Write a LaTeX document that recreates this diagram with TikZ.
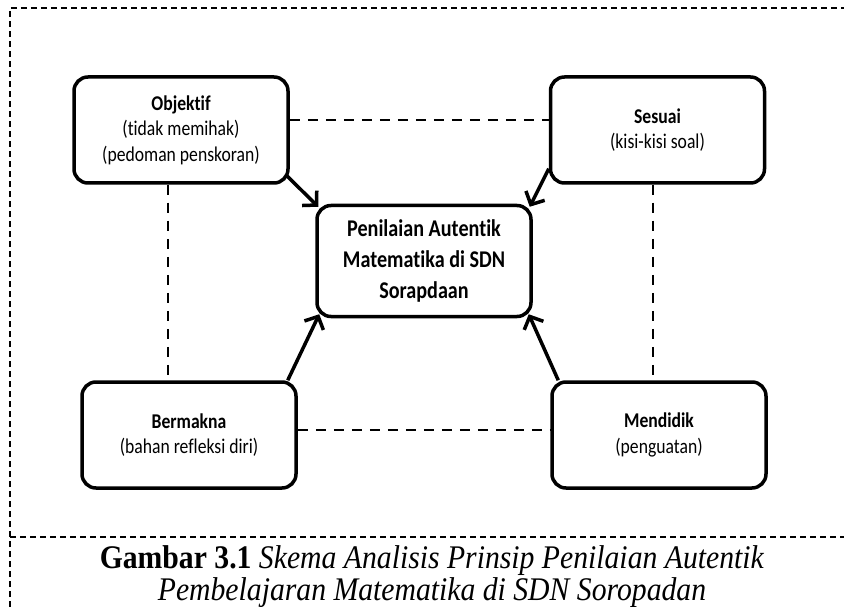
\documentclass[tikz,border=0pt]{standalone}
\usepackage{fontspec}
\setmainfont{Liberation Serif}
\newfontfamily\boxfont[FakeStretch=0.84, Ligatures=NoCommon]{Carlito}
\newfontfamily\capfont[FakeStretch=0.9]{Liberation Serif}
\usetikzlibrary{arrows.meta, positioning}

\begin{document}
\begin{tikzpicture}[x=1pt, y=-1pt,
			block/.style={rectangle, draw, line width=3.5pt, rounded corners=14pt,
				minimum width=214pt, minimum height=106pt, inner sep=0pt,
				align=center, font=\boxfont\fontsize{21}{25.5}\selectfont},
			hub/.style={block, minimum height=111pt,
				font=\boxfont\bfseries\fontsize{24}{31}\selectfont},
			arr/.style={-{Straight Barb[length=10pt, width=21pt, line width=3.5pt]},
				line width=3.5pt},
			link/.style={line width=2pt, dash pattern=on 10pt off 8pt},
			frame/.style={line width=1.2pt, dash pattern=on 6pt off 4pt},
			]
			\useasboundingbox (0,0) rectangle (844,607);
			
			% Frame
			\draw[frame] (10,607) -- (10,8) -- (844,8);
			\draw[frame] (10,537) -- (844,537);
			
			% Blocks
			\node[hub] (pa) at (424,261) {Penilaian Autentik\\Matematika di SDN\\Sorapdaan};
			\node[block] (obj) at (181,130) {\textbf{Objektif}\\(tidak memihak)\\(pedoman penskoran)};
			\node[block] (ses) at (657.5,130) {\textbf{Sesuai}\\(kisi-kisi soal)};
			\node[block] (ber) at (189,435) {\textbf{Bermakna}\\(bahan refleksi diri)};
			\node[block] (mdk) at (659,435) {\textbf{Mendidik}\\(penguatan)};
			
			% Arrows
			\draw[arr] ([shift={(-4,-10)}]obj.south east) -- ([shift={(3,3)}]pa.north west);
			\draw[arr] ([shift={(0,-16)}]ses.south west) -- ([shift={(-3,3)}]pa.north east);
			\draw[arr] ([shift={(-10,0)}]ber.north east) -- ([shift={(4,-4)}]pa.south west);
			\draw[arr] ([shift={(8,0)}]mdk.north west) -- ([shift={(-4,-4)}]pa.south east);
			
			% Dashed links
			\coordinate (objr) at ([shift={(0,-10)}]obj.east);
			\coordinate (objb) at ([shift={(-13,0)}]obj.south);
			\coordinate (sesb) at ([shift={(-4.5,0)}]ses.south);
			\coordinate (berr) at ([shift={(0,-5)}]ber.east);
			\draw[link] (objr) -- (objr -| ses.west);
			\draw[link] (objb) -- (objb |- ber.north);
			\draw[link] (sesb) -- (sesb |- mdk.north);
			\draw[link] (berr) -- (berr -| mdk.west);
			
			% Caption
			\node[font=\capfont\fontsize{33}{32}\selectfont, align=center] (cap) at (432,577)
			{\textbf{Gambar 3.1} \textit{Skema Analisis Prinsip Penilaian Autentik}\\
				\textit{Pembelajaran Matematika di SDN Soropadan}};
		\end{tikzpicture}
\end{document}
